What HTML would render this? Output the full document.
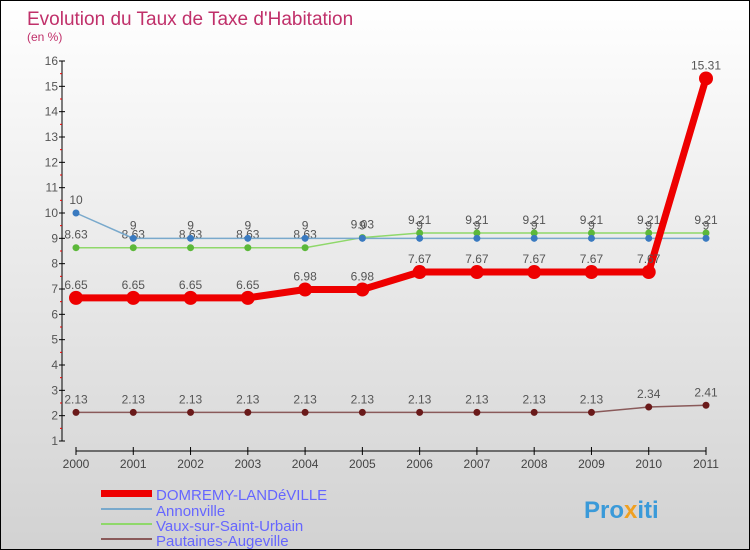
<!DOCTYPE html>
<html><head><meta charset="utf-8"><style>
body{margin:0}
#c{width:748px;height:548px;border:1px solid #000;background:linear-gradient(#fff,#d2d2d2);position:relative;font-family:"Liberation Sans",sans-serif;overflow:hidden}
</style></head><body>
<div id="c">
<svg id="s" width="748" height="548" xmlns="http://www.w3.org/2000/svg" style="position:absolute;left:0;top:0">
<text x="26" y="24" font-size="19" fill="#c0306a">Evolution du Taux de Taxe d'Habitation</text>
<text x="26" y="40" font-size="12" fill="#c0306a">(en %)</text>
<g id="axes"></g><g id="series"></g>
<g>
<rect x="100" y="489" width="51" height="7" fill="#e00"/>
<text x="155" y="499" font-size="15" fill="#66f">DOMREMY-LANDéVILLE</text>
<rect x="100" y="507" width="51" height="2" fill="#79a9cc"/>
<text x="155" y="515" font-size="15" fill="#66f">Annonville</text>
<rect x="100" y="522" width="51" height="2" fill="#8fd86a"/>
<text x="155" y="530" font-size="15" fill="#66f">Vaux-sur-Saint-Urbain</text>
<rect x="100" y="537" width="51" height="2" fill="#8a5a5a"/>
<text x="155" y="545" font-size="15" fill="#66f">Pautaines-Augeville</text>
</g>
<text x="583" y="517" font-size="24" font-weight="bold" fill="#3a9ad9">Pro<tspan fill="#f0a020">x</tspan>iti</text>
</svg>
</div>
<script>
const years=[2000,2001,2002,2003,2004,2005,2006,2007,2008,2009,2010,2011];
const domremy=[6.65,6.65,6.65,6.65,6.98,6.98,7.67,7.67,7.67,7.67,7.67,15.31];
const annonville=[10,9,9,9,9,9,9,9,9,9,9,9];
const vaux=[8.63,8.63,8.63,8.63,8.63,9.03,9.21,9.21,9.21,9.21,9.21,9.21];
const pautaines=[2.13,2.13,2.13,2.13,2.13,2.13,2.13,2.13,2.13,2.13,2.34,2.41];
const yTicks=[1,2,3,4,5,6,7,8,9,10,11,12,13,14,15,16];
const NS="http://www.w3.org/2000/svg";
const X=i=>75+i*(630/11);
const Y=v=>440-(v-1)*(380/15);
function mk(t,a,p){const e=document.createElementNS(NS,t);for(const k in a)e.setAttribute(k,a[k]);p.appendChild(e);return e;}
const ax=document.getElementById('axes'),sg=document.getElementById('series');
let l=mk('line',{x1:61,y1:Y(16),x2:61,y2:Y(1),stroke:'#000'},ax);


yTicks.forEach(v=>{
 mk('line',{x1:58,x2:64,y1:Y(v),y2:Y(v),stroke:'#000'},ax);
 if(v<16)mk('line',{x1:59,x2:61,y1:Y(v+0.5),y2:Y(v+0.5),stroke:'#e00'},ax);
 const t=mk('text',{x:57,y:Y(v)+4,'font-size':12,fill:'#555','text-anchor':'end'},ax);
 t.textContent=v;
 
 
});
l=mk('line',{x1:X(0),y1:450,x2:X(11),y2:450,stroke:'#000'},ax);


years.forEach((y,i)=>{
 mk('line',{x1:X(i),x2:X(i),y1:446,y2:454,stroke:'#000'},ax);
 const t=mk('text',{x:X(i),y:467,'font-size':12,fill:'#444','text-anchor':'middle'},ax);
 t.textContent=y;
 
 
});
function draw(data,name,color,w,r,dot){
 const g=mk('g',{},sg);
 
 
 const p=mk('polyline',{points:data.map((v,i)=>X(i)+','+Y(v)).join(' '),fill:'none',stroke:color,'stroke-width':w},g);
 
 
 data.forEach((v,i)=>{
  const c=mk('circle',{cx:X(i),cy:Y(v),r:r,fill:dot},g);
  
  
  const t=mk('text',{x:X(i),y:Y(v)-9,'font-size':12,fill:'#555','text-anchor':'middle'},g);
  t.textContent=String(v);
  
  
 });
}
draw(pautaines,'pautaines','#8a5a5a',1.5,3.5,'#6a1a1a');
draw(vaux,'vaux','#8fd86a',1.5,3.5,'#5cb83a');
draw(annonville,'annonville','#79a9cc',1.5,3.5,'#3a7ac0');
draw(domremy,'domremy','#e00',7,7,'#e00');
</script>
</body></html>
